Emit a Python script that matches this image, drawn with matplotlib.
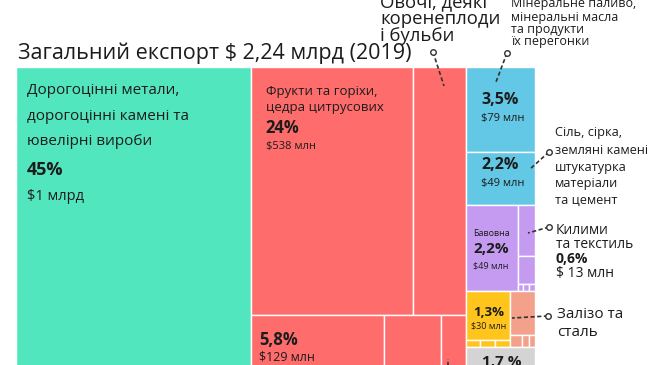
import matplotlib.pyplot as plt
from matplotlib.patches import Rectangle
from matplotlib.lines import Line2D

plt.rcParams['font.family'] = ['Open Sans', 'DejaVu Sans']

W, H = 650, 365

# shares of total export, % (cell areas)
precious = 45.0
fruits = 24.0
vegetables = 7.75
red_bottom = [5.8, 2.46, 1.1]
fuel = 3.5
salt = 2.2
cotton = 2.67
textile = [0.53, 0.29]
textile_small = [0.023, 0.023, 0.023]
iron = 1.29
iron_small = [0.063, 0.063, 0.063]
salmon = 0.66
salmon_small = [0.09, 0.05, 0.04]
other = 1.68

c_teal = '#52E6BF'
c_red = '#FF6C6C'
c_blue = '#63C7E6'
c_purple = '#C59BF1'
c_yellow = '#FFC51C'
c_salmon = '#F4A18C'
c_gray = '#D4D4D4'
c_text = '#1c1c1c'

tree = [
    (c_teal, precious),
    (c_red, [[fruits, vegetables], red_bottom]),
    [
        (c_blue, fuel),
        (c_blue, salt),
        (c_purple, [cotton, textile + [textile_small]]),
        [(c_yellow, [iron, iron_small]), (c_salmon, [salmon, salmon_small])],
        (c_gray, other),
    ],
]


def size(node):
    if isinstance(node, tuple):
        return size(node[1])
    if isinstance(node, list):
        return sum(size(n) for n in node)
    return node


def layout(node, x, y, w, h, depth, color, out):
    if isinstance(node, tuple):
        layout(node[1], x, y, w, h, depth, node[0], out)
        return
    if not isinstance(node, list):
        out.append((x, y, w, h, color))
        return
    total = size(node)
    pos = 0.0
    for n in node:
        f = size(n) / total
        if depth % 2 == 0:
            layout(n, x + pos * w, y, f * w, h, depth + 1, color, out)
        else:
            layout(n, x, y + pos * h, w, f * h, depth + 1, color, out)
        pos += f


cells = []
layout(tree, 0, 0, 1, 1, 0, None, cells)

fig = plt.figure(figsize=(W / 100, H / 100), dpi=100)
# treemap runs below the bottom edge of the picture
left, right, top, bottom = 16, 535, 67, 388
ax = fig.add_axes([left / W, 1 - bottom / H, (right - left) / W, (bottom - top) / H])
for x, y, w, h, c in cells:
    ax.add_patch(Rectangle((x, y), w, h, facecolor=c, edgecolor='white', lw=1.0))
ax.set_xlim(0, 1)
ax.set_ylim(1, 0)
ax.axis('off')


def put(x, y, s, size, weight='normal', ha='left'):
    fig.text(x / W, 1 - y / H, s, fontsize=size, fontweight=weight,
             color=c_text, ha=ha, va='center')


def pointer(x0, y0, x1, y1):
    fig.add_artist(Line2D([x0 / W, x1 / W], [1 - y0 / H, 1 - y1 / H],
                          color='#333333', lw=1.2, ls=(0, (2.5, 1.5))))
    fig.add_artist(Line2D([x0 / W], [1 - y0 / H], marker='o', ms=4,
                          mfc='white', mec='#333333', mew=1))


put(18, 53, 'Загальний експорт $ 2,24 млрд (2019)', 15.5)

# labels inside cells
for s, y in [('Дорогоцінні метали,', 90), ('дорогоцінні камені та', 116),
             ('ювелірні вироби', 142)]:
    put(27, y, s, 11)
put(27, 170, '45%', 13, 'bold')
put(27, 196, '$1 млрд', 10.5)

put(266, 92, 'Фрукти та горіхи,', 9.5)
put(266, 107, 'цедра цитрусових', 9.5)
put(265, 128, '24%', 12, 'bold')
put(266, 146, '$538 млн', 8)

put(259, 340, '5,8%', 12, 'bold')
put(259, 357, '$129 млн', 9)

put(481, 100, '3,5%', 11.5, 'bold')
put(481, 118, '$79 млн', 8)
put(481, 165, '2,2%', 11.5, 'bold')
put(481, 183, '$49 млн', 8)

put(491, 233, 'Бавовна', 6.5, ha='center')
put(491, 249, '2,2%', 11, 'bold', ha='center')
put(491, 266, '$49 млн', 6.5, ha='center')

put(489, 312, '1,3%', 9.5, 'bold', ha='center')
put(489, 326, '$30 млн', 6.5, ha='center')

put(482, 362, '1,7 %', 11, 'bold')

# labels outside with pointers
for s, y in [('Овочі, деякі', 2), ('коренеплоди', 19), ('і бульби', 36)]:
    put(380, y, s, 13.3)
pointer(433, 52, 444, 86)

for s, y in [('Мінеральне паливо,', 3), ('мінеральні масла', 17),
             ('та продукти', 30), ('їх перегонки', 42)]:
    put(511, y, s, 9)
pointer(507, 53, 496, 82)

for s, y in [('Сіль, сірка,', 133), ('земляні камені', 150), ('штукатурка', 167),
             ('матеріали', 183), ('та цемент', 200)]:
    put(555, y, s, 9.2)
pointer(549, 152, 530, 169)

put(556, 230, 'Килими', 10)
put(556, 244, 'та текстиль', 10)
put(556, 259, '0,6%', 10, 'bold')
put(556, 273, '$ 13 млн', 10)
pointer(549, 227, 528, 233)

put(557, 315, 'Залізо та', 11)
put(557, 332, 'сталь', 11)
pointer(548, 316, 512, 318)

pointer(448, 372, 448, 359)

fig.savefig('out.png', dpi=100)
